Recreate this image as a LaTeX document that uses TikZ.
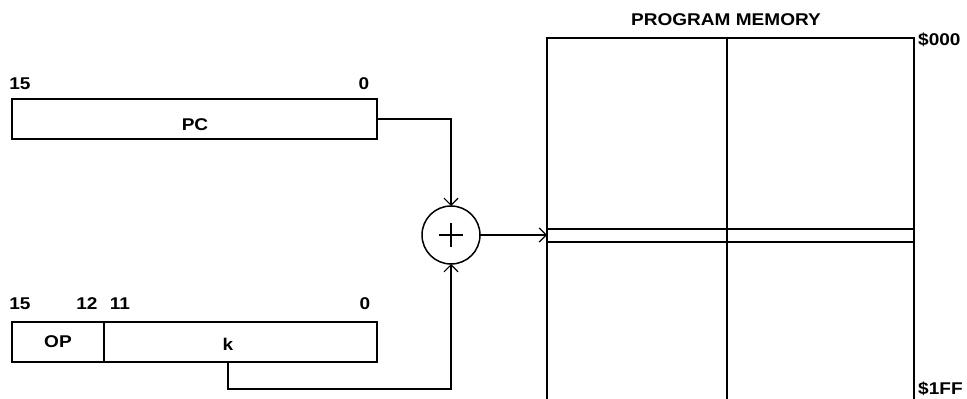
\documentclass[tikz,border=0pt]{standalone}
\usepackage{fontspec}
\setmainfont{Liberation Sans}[FakeStretch=1.12]
\usetikzlibrary{arrows.meta,calc}
\tikzset{
  ln/.style={line width=1.5pt},
  box/.style={draw, ln, rectangle, inner sep=0pt, outer sep=0pt},
  lbl/.style={inner sep=0pt, font=\fontsize{17pt}{19pt}\selectfont\bfseries},
  arr/.style={ln, -{Straight Barb[length=7pt,width=14pt,line width=1.2pt]}},
}
\begin{document}
\begin{tikzpicture}[x=1pt,y=-1pt]
\useasboundingbox (0,0) rectangle (967,399);
% PC register
\node[box, minimum width=365pt, minimum height=40pt] (pc) at (194.5,119) {};
\node[lbl] (pct) at (195,125) {PC};
\node[lbl] (pc15) at (20,84) {15};
\node[lbl] (pc0) at (364,84) {0};
% instruction register
\node[box, minimum width=92pt, minimum height=40pt] (op) at (58,342) {};
\node[box, minimum width=273pt, minimum height=40pt] (k) at (240.5,342) {};
\node[lbl] (opt) at (58,342) {OP};
\node[lbl] (kt) at (228,344) {k};
\node[lbl] (i15) at (20,304) {15};
\node[lbl] (i12) at (87,304) {12};
\node[lbl] (i11) at (120,304) {11};
\node[lbl] (i0) at (365,304) {0};
% adder
\node[draw, ln, circle, minimum size=58pt, inner sep=0pt, outer sep=0pt] (sum) at (451,235) {};
\draw[line width=1.2pt] ($(sum.center)+(-12,0)$) -- ($(sum.center)+(12,0)$);
\draw[line width=1.2pt] ($(sum.center)+(0,-12)$) -- ($(sum.center)+(0,12)$);
% program memory
\node[box, minimum width=367pt, minimum height=364pt] (mem) at (730.5,220) {};
\coordinate (memmid) at (727,0);
\draw[ln] (memmid |- mem.north) -- (memmid |- mem.south);
\coordinate (row1) at (0,229);
\coordinate (row2) at (0,242);
\draw[ln] (mem.west |- row1) -- (mem.east |- row1);
\draw[ln] (mem.west |- row2) -- (mem.east |- row2);
\node[lbl] (memt) at (726,20) {PROGRAM MEMORY};
\node[lbl, anchor=west] (m0) at (918,40) {\$000};
\node[lbl, anchor=west] (m1) at (918,389) {\$1FF};
% connectors
\coordinate (kdown) at (228,389);
\draw[arr] (pc.east) -| (sum.north);
\draw[arr] (kt |- k.south) -- (kdown) -| (sum.south);
\draw[arr] (sum.east) -- (mem.west |- sum.east);
\end{tikzpicture}
\end{document}
